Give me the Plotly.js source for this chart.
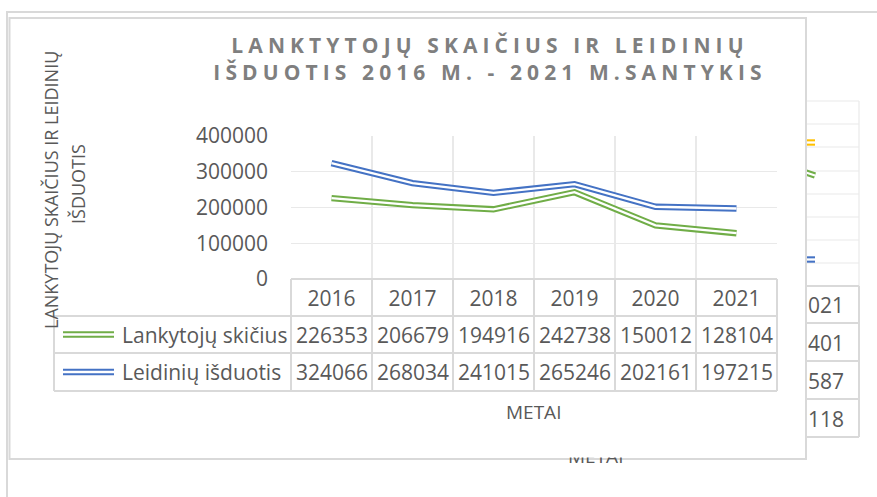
<!DOCTYPE html>
<html>
<head>
<meta charset="utf-8">
<script src="https://cdn.plot.ly/plotly-3.0.1.min.js"></script>
<style>
  body { margin: 0; background: #ffffff; }
  .gtitle { letter-spacing: 5.1px; }
</style>
</head>
<body>
<div id="chart" style="width:877px;height:497px;"></div>
<script>
// ---- data ----
const years = ['2016', '2017', '2018', '2019', '2020', '2021'];
const lankytojai = [226353, 206679, 194916, 242738, 150012, 128104];
const leidiniai = [324066, 268034, 241015, 265246, 202161, 197215];
const seriesNames = ['Lankytojų skičius', 'Leidinių išduotis'];
const seriesColors = ['#70AD47', '#4472C4'];
const yTicks = [0, 100000, 200000, 300000, 400000];
const titleText = 'LANKTYTOJŲ SKAIČIUS IR LEIDINIŲ<br>IŠDUOTIS 2016 M. - 2021 M.SANTYKIS';
const yTitleLines = ['LANKYTOJŲ SKAIČIUS IR LEIDINIŲ', 'IŠDUOTIS'];
const xTitle = 'METAI';
const backTableTexts = ['021', '401', '587', '118'];

// ---- geometry helpers (pixels -> paper) ----
const W = 877, H = 497;
const L = 291, R = 777, T = 136, B = 279;
const px = v => (v - L) / (R - L);
const py = v => (B - v) / (B - T);
const colW = (R - L) / years.length;
const rowY = [279, 316, 353, 391];

const TXT = '#595959';
const GRID = '#e9e9e9';
const TBL = '#d9d9d9';
const FONT = 'Open Sans';

// ---- traces: double (compound) lines ----
const series = [lankytojai, leidiniai];
const traces = [];
series.forEach((vals, i) => {
  traces.push({x: years, y: vals, type: 'scatter', mode: 'lines', name: seriesNames[i],
    line: {color: seriesColors[i], width: 6.4}, hoverinfo: 'skip', showlegend: false, cliponaxis: false});
  traces.push({x: years, y: vals, type: 'scatter', mode: 'lines', name: seriesNames[i],
    line: {color: '#ffffff', width: 2.3}, hoverinfo: 'skip', showlegend: false, cliponaxis: false});
});

// ---- shapes ----
const shapes = [];
function hline(x0, x1, y, color, width, layer) {
  shapes.push({type: 'line', xref: 'paper', yref: 'paper', x0: px(x0), x1: px(x1), y0: py(y), y1: py(y),
    line: {color: color, width: width}, layer: layer || 'below'});
}
function vline(x, y0, y1, color, width, layer) {
  shapes.push({type: 'line', xref: 'paper', yref: 'paper', x0: px(x), x1: px(x), y0: py(y0), y1: py(y1),
    line: {color: color, width: width}, layer: layer || 'below'});
}
function dblKey(x0, x1, y0, y1, color, layer) {
  shapes.push({type: 'line', xref: 'paper', yref: 'paper', x0: px(x0), x1: px(x1), y0: py(y0), y1: py(y1),
    line: {color: color, width: 6.4}, layer: layer || 'below'});
  shapes.push({type: 'line', xref: 'paper', yref: 'paper', x0: px(x0), x1: px(x1), y0: py(y0), y1: py(y1),
    line: {color: '#ffffff', width: 2.3}, layer: layer || 'below'});
}

// chart behind (partially visible)
shapes.push({type: 'rect', xref: 'paper', yref: 'paper', x0: px(7), x1: px(905), y0: py(12), y1: py(530),
  line: {color: TBL, width: 2}, fillcolor: 'rgba(0,0,0,0)', layer: 'below'});
[101, 124, 147, 171, 194, 217, 240, 263].forEach(y => hline(806, 859, y, GRID, 1.2));
vline(859, 101, 286, GRID, 1.2);
[286, 323, 361, 399, 437].forEach(y => hline(806, 859, y, TBL, 2));
vline(859, 286, 437, TBL, 2);
dblKey(806, 815, 142.5, 142.5, '#FFC000');
dblKey(806, 815, 172.5, 175.5, '#70AD47');
dblKey(806, 815, 259.5, 259.5, '#4472C4');

// front chart box
shapes.push({type: 'rect', xref: 'paper', yref: 'paper', x0: px(9.5), x1: px(806), y0: py(18), y1: py(459),
  line: {color: TBL, width: 2}, fillcolor: '#ffffff', layer: 'below'});

// data table grid
hline(L, R, rowY[0], TBL, 2, 'above');
for (let r = 1; r < rowY.length; r++) hline(54, R, rowY[r], TBL, 2, 'above');
vline(54, rowY[1], rowY[3], TBL, 2, 'above');
for (let c = 0; c <= years.length; c++) vline(L + c * colW, rowY[0], rowY[3], TBL, 2, 'above');

// legend keys inside the table
series.forEach((vals, i) => {
  const yc = (rowY[i + 1] + rowY[i + 2]) / 2;
  dblKey(63, 114, yc, yc, seriesColors[i], 'above');
});

// ---- annotations ----
const annotations = [];
function txt(text, x, y, opts) {
  opts = opts || {};
  annotations.push(Object.assign({text: text, xref: 'paper', yref: 'paper', x: px(x), y: py(y),
    xanchor: 'center', yanchor: 'middle', showarrow: false,
    font: {family: FONT, size: 21, color: TXT}}, opts));
}

// behind chart texts
backTableTexts.forEach((t, i) => txt(t, 806, 305 + i * 38, {xanchor: 'left'}));
txt(xTitle, 595, 456, {font: {family: FONT, size: 19, color: TXT}});
annotations.push({text: ' ', xref: 'paper', yref: 'paper', x: px(595), y: py(448.5), xanchor: 'center', yanchor: 'middle',
  showarrow: false, width: 90, height: 17, bgcolor: '#ffffff', borderpad: 0, font: {size: 4}});

// table row labels and values
series.forEach((vals, i) => {
  const yc = (rowY[i + 1] + rowY[i + 2]) / 2;
  txt(seriesNames[i], 120, yc, {xanchor: 'left'});
  vals.forEach((v, c) => txt(String(v), L + (c + 0.5) * colW, yc));
});

// axis titles
txt(yTitleLines[0], 51, 190, {textangle: -90, font: {family: FONT, size: 18, color: TXT}});
txt(yTitleLines[1], 78, 184, {textangle: -90, font: {family: FONT, size: 18, color: TXT}});
txt(xTitle, 533, 412, {font: {family: FONT, size: 19, color: TXT}});

const layout = {
  width: W, height: H,
  margin: {l: L, r: W - R, t: T, b: H - B, pad: 0},
  paper_bgcolor: '#ffffff', plot_bgcolor: 'rgba(0,0,0,0)',
  showlegend: false,
  title: {text: titleText, x: 490 / W, xanchor: 'center', y: 1 - 52.5 / H, yanchor: 'middle',
    font: {family: FONT, size: 21, color: '#7f7f7f', weight: 'bold'}},
  xaxis: {type: 'category', categoryorder: 'array', categoryarray: years, range: [-0.5, 5.5],
    tickson: 'boundaries', showgrid: true, gridcolor: GRID, gridwidth: 1.2, showline: false, zeroline: false,
    ticks: '', ticklabelstandoff: 5, tickfont: {family: FONT, size: 21, color: TXT}, fixedrange: true},
  yaxis: {range: [0, 400000], tickvals: yTicks, ticktext: yTicks.map(String), showgrid: true,
    gridcolor: GRID, gridwidth: 1.2, showline: false, zeroline: false, ticks: '', ticklabelstandoff: 22,
    tickfont: {family: FONT, size: 21, color: TXT}, fixedrange: true},
  shapes: shapes,
  annotations: annotations
};

Plotly.newPlot('chart', traces, layout, {displayModeBar: false, staticPlot: true});
</script>
</body>
</html>
